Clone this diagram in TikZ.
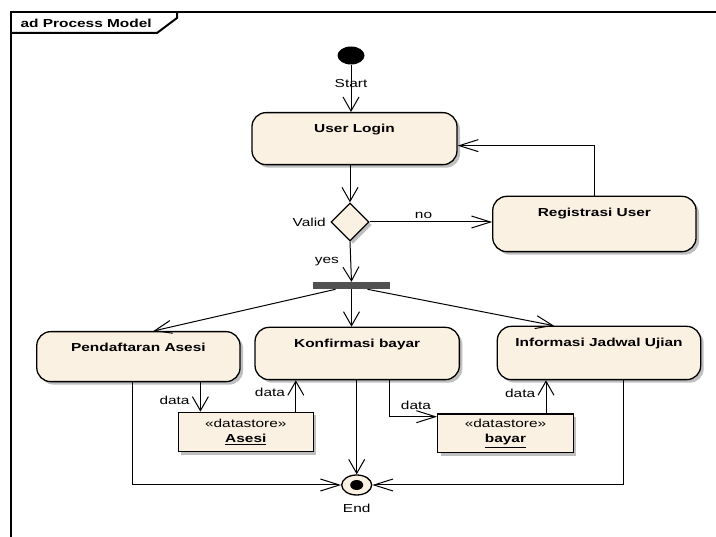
\documentclass[tikz,border=0pt]{standalone}
\usepackage{fontspec}
\setmainfont{Liberation Sans}[FakeStretch=1.33]
\usetikzlibrary{arrows.meta, shapes.geometric, shadows}
\definecolor{actfill}{RGB}{251,241,227}

\begin{document}
\begin{tikzpicture}[x=1pt, y=-1pt,
  every node/.style={font=\fontsize{11.6}{15.3}\selectfont},
  boxshadow/.style={drop shadow={shadow xshift=3pt, shadow yshift=-3pt, fill=black!25, opacity=1}},
  activity/.style={draw, line width=1.3pt, rounded corners=14pt, fill=actfill, inner sep=0pt,
    text height=20pt, anchor=north, font=\fontsize{11.6}{15.3}\selectfont\bfseries, boxshadow},
  datastore/.style={draw, line width=1.3pt, fill=actfill, inner sep=0pt, align=center, boxshadow},
  flow/.style={line width=1pt, -{Straight Barb[length=14pt, width=16pt, line width=1pt]}},
  hflow/.style={line width=1pt, -{Straight Barb[length=19pt, width=12pt, line width=1pt]}},
  dflow/.style={line width=1pt, -{Straight Barb[length=17pt, width=13pt, line width=1pt]}}]
\useasboundingbox (0,0) rectangle (716,537);

% Draw the frame and its title tab
\draw[line width=2pt] (11,537) -- (11,12) -- (716,12);
\draw[line width=2pt] (11,33) -- (157,33) -- (177,18) -- (177,12);
\node[anchor=west, font=\fontsize{11.6}{15.3}\selectfont\bfseries] (title) at (17,23) {ad Process Model};

% Draw the start, decision and fork
\node[ellipse, fill=black, minimum width=27pt, minimum height=18pt, inner sep=0pt] (start) at (351,55.5) {};
\node[diamond, draw, line width=1.3pt, fill=actfill, minimum width=38pt, minimum height=38pt, inner sep=0pt,
  boxshadow, label={[label distance=1pt]left:Valid}] (valid) at (350,222) {};
\node[fill=black!68, minimum width=77pt, minimum height=7pt, inner sep=0pt] (fork) at (351.5,285.6) {};

% Draw the activities
\node[activity, minimum width=205pt, text depth=32pt] (login) at (354.5,112) {User Login};
\node[activity, minimum width=203.3pt, text depth=35.3pt] (regist) at (594.4,195.7) {Registrasi User};
\node[activity, minimum width=203.3pt, text depth=30pt] (pend) at (138.4,331) {Pendaftaran Asesi};
\node[activity, minimum width=204.3pt, text depth=32.3pt] (konf) at (357.2,326.7) {Konfirmasi bayar};
\node[activity, minimum width=203.4pt, text depth=33.3pt] (info) at (599,325.7) {Informasi Jadwal Ujian};

% Draw the data stores
\node[datastore, minimum width=135pt, minimum height=39.4pt] (asesi) at (245.8,432) {«datastore»\\\textbf{\underline{Asesi}}};
\node[datastore, minimum width=135.6pt, minimum height=38.7pt] (bayar) at (505.5,433.3) {«datastore»\\\textbf{\underline{bayar}}};

% Draw the end
\node[ellipse, draw, line width=1.3pt, fill=actfill, minimum width=30pt, minimum height=20pt, inner sep=0pt,
  label={[label distance=5pt]below:End}] (end) at (356.7,485) {};
\fill (end.center) ellipse [x radius=6.5pt, y radius=5pt];

% Control flows
\draw[flow] (start) -- (start |- login.north) node[pos=0.4] {Start};
\draw[flow] (valid |- login.south) -- (valid.north);
\draw[hflow] (valid.east) -- (regist.west |- valid.east) node[pos=0.44, above] {no};
\draw[hflow] (regist.north) |- ([yshift=-7pt]login.east);
\draw[flow] (valid.south) -- (fork.north) node[midway, left=8pt] {yes};
\draw[dflow] ([xshift=-16pt]fork.south) -- ([xshift=15pt]pend.north);
\draw[flow] (fork.south) -- (fork.south |- konf.north);
\draw[dflow] ([xshift=16pt]fork.south) -- ([xshift=-45pt]info.north);
\draw[hflow] ([xshift=-6pt]pend.south) |- (end.west);
\draw[flow] (end.north |- konf.south) -- (end.north);
\draw[hflow] ([xshift=24.3pt]info.south) |- (end.east);

% Object flows
\draw[flow] ([xshift=62pt]pend.south) -- ([xshift=62pt]pend.south |- asesi.north) node[pos=0.6, left=7pt] {data};
\draw[flow] ([xshift=50pt]asesi.north) -- ([xshift=50pt]asesi.north |- konf.south) node[pos=0.6, left=7pt] {data};
\draw[hflow] ([xshift=32pt]konf.south) |- ([yshift=16.6pt]bayar.west) node[pos=0.78, above=3pt] {data};
\draw[flow] ([xshift=40.5pt]bayar.north) -- ([xshift=40.5pt]bayar.north |- info.south) node[pos=0.6, left=7pt] {data};
\end{tikzpicture}
\end{document}
